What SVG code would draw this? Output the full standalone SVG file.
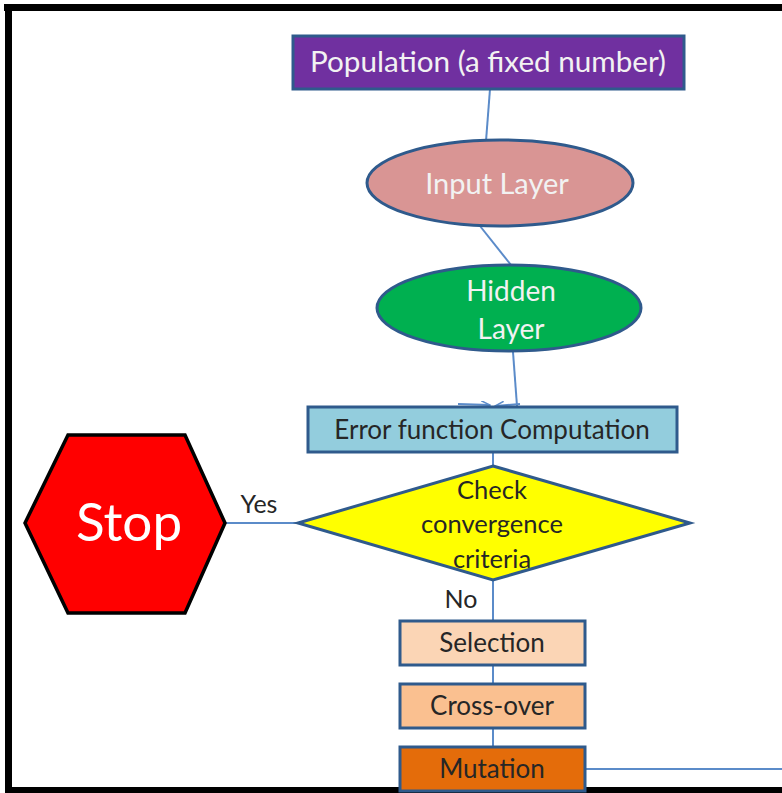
<svg xmlns="http://www.w3.org/2000/svg" width="782" height="793" viewBox="0 0 782 793">
<defs>
<style>
.box{stroke:#2F5A8C;stroke-width:3}
.t{font-family:Lato,"Open Sans","Liberation Sans",sans-serif;text-anchor:middle}
.dk{fill:#262626}
.lt{fill:#F2F2F2}
.c{stroke:#5B8BC9;stroke-width:2;fill:none}
</style>
<marker id="ah" markerWidth="10" markerHeight="8" refX="9" refY="4" orient="auto" markerUnits="userSpaceOnUse">
<path d="M0,0 L9,4 L0,8" fill="none" stroke="#5B8BC9" stroke-width="1.5"/>
</marker>
</defs>
<rect width="782" height="793" fill="#FFFFFF"/>
<g id="frame" fill="#000">
<rect x="4" y="4" width="778" height="7"/>
<rect x="5" y="4" width="7" height="789"/>
<rect x="5" y="787" width="777" height="6"/>
</g>
<g id="connectors">
<line class="c" x1="490" y1="89" x2="486" y2="141"/>
<line class="c" x1="480" y1="226" x2="511" y2="265"/>
<line class="c" x1="513" y1="352" x2="517" y2="406"/>
<path class="c" d="M458,404 L490,405" marker-end="url(#ah)"/>
<path class="c" d="M520,404 L495,406" marker-end="url(#ah)"/>
<line class="c" x1="493" y1="452" x2="493" y2="466"/>
<line class="c" x1="225" y1="523" x2="298" y2="523"/>
<line class="c" x1="493" y1="580" x2="493" y2="621"/>
<line class="c" x1="493" y1="665" x2="493" y2="684"/>
<line class="c" x1="493" y1="728" x2="493" y2="747"/>
<line class="c" x1="585" y1="769" x2="782" y2="769"/>
</g>
<g id="population">
<rect class="box" x="293" y="36" width="391" height="53" fill="#7030A0"/>
<text class="t lt" x="488" y="72" font-size="28" textLength="356" lengthAdjust="spacingAndGlyphs">Population (a fixed number)</text>
</g>
<g id="input-layer">
<ellipse class="box" cx="500" cy="183" rx="133" ry="43" fill="#D99594"/>
<text class="t lt" x="497" y="194" font-size="29">Input Layer</text>
</g>
<g id="hidden-layer">
<ellipse class="box" cx="509" cy="308" rx="132" ry="43" fill="#00B050"/>
<text class="t lt" x="511" y="301" font-size="28">Hidden</text>
<text class="t lt" x="511" y="339" font-size="28">Layer</text>
</g>
<g id="error-function">
<rect class="box" x="308" y="407" width="369" height="45" fill="#93CDDD"/>
<text class="t dk" x="492" y="439" font-size="26">Error function Computation</text>
</g>
<g id="check">
<polygon class="box" points="493,466 690,523 493,580 298,523" fill="#FFFF00"/>
<text class="t dk" x="492" y="499" font-size="25.5">Check</text>
<text class="t dk" x="492" y="533" font-size="25.5">convergence</text>
<text class="t dk" x="492" y="568" font-size="25.5">criteria</text>
</g>
<g id="stop">
<polygon points="25,523 68,435 185,435 225,523 185,613 68,613" fill="#FF0000" stroke="#000" stroke-width="3.5"/>
<text class="t" x="129" y="541" font-size="53" fill="#FFFFFF">Stop</text>
</g>
<g id="labels">
<text class="t dk" x="259" y="513" font-size="25">Yes</text>
<text class="t dk" x="461" y="608" font-size="25">No</text>
</g>
<g id="selection">
<rect class="box" x="400" y="621" width="185" height="44" fill="#FBD5B5"/>
<text class="t dk" x="492" y="652" font-size="26">Selection</text>
</g>
<g id="crossover">
<rect class="box" x="400" y="684" width="185" height="44" fill="#FAC090"/>
<text class="t dk" x="492" y="715" font-size="26">Cross-over</text>
</g>
<g id="mutation">
<rect class="box" x="400" y="747" width="185" height="44" fill="#E46C0A"/>
<text class="t dk" x="492" y="778" font-size="26">Mutation</text>
</g>
</svg>
